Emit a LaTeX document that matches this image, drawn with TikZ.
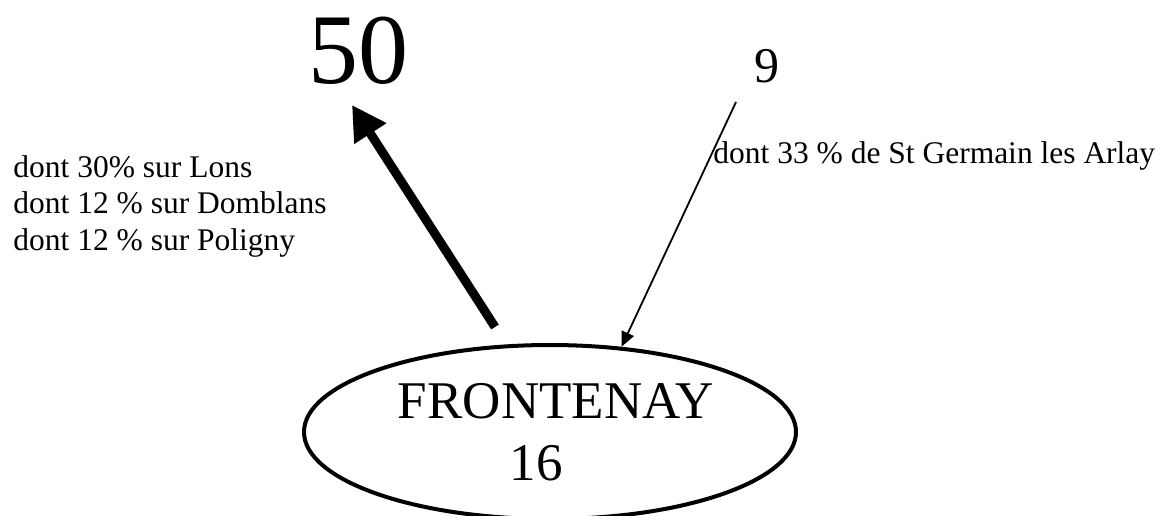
\documentclass[tikz,border=0pt]{standalone}
\usepackage{fontspec}
\setmainfont{Liberation Serif}
\usetikzlibrary{positioning,arrows.meta,shapes.geometric}

\begin{document}
\begin{tikzpicture}[x=0.5pt,y=-0.5pt,
    txt/.style={inner sep=0pt,font=\fontsize{15.75}{18.25}\selectfont},
    bigarrow/.style={line width=4.5pt,-{Triangle[length=17pt,width=18pt]}},
    smallarrow/.style={line width=0.9pt,-{Triangle[length=7.5pt,width=6.5pt]}}]
      \useasboundingbox (0,0) rectangle (1157,515);
      % commune
      \node[draw,ellipse,line width=2pt,inner sep=0pt,minimum width=246pt,minimum height=87pt](fr) at (550,432){};
      \node[inner sep=0pt,anchor=base,font=\fontsize{26.5}{30}\selectfont](frname) at (556,418){FRONTENAY};
      \node[inner sep=0pt,anchor=base,font=\fontsize{26.5}{30}\selectfont](frnum) at (536,480){16};
      % sortants
      \node[inner sep=0pt,anchor=base,font=\fontsize{50}{60}\selectfont](n50) at (358,83){50};
      \node[txt,anchor=north west,align=left](outtxt) at (13,155){dont 30\% sur Lons\\dont 12 \% sur Domblans\\dont 12 \% sur Poligny};
      \coordinate (frtop) at (495,327);
      \coordinate (to50) at (352,105);
      \draw[bigarrow] (frtop) -- (to50);
      % entrants
      \node[inner sep=0pt,anchor=base,font=\fontsize{25}{30}\selectfont](n9) at (767,82){9};
      \node[txt,anchor=base west](intxt) at (713,163){dont 33 \% de St Germain les Arlay};
      \coordinate (from9) at (736,102);
      \draw[smallarrow] (from9) -- (fr.50);
    \end{tikzpicture}
\end{document}
